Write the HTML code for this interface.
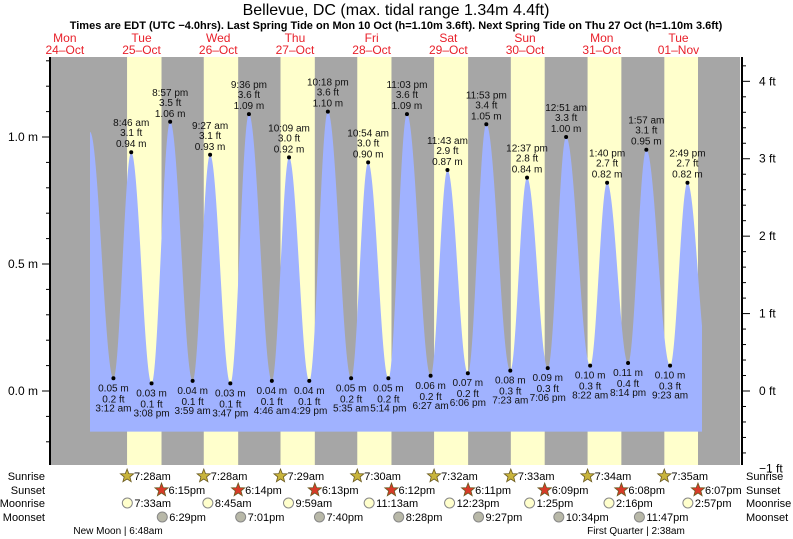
<!DOCTYPE html>
<html><head><meta charset="utf-8"><style>
body{margin:0;background:#fff}
svg{display:block;font-family:"Liberation Sans",sans-serif}
</style></head><body>
<svg id="c" width="793" height="539" viewBox="0 0 793 539" xmlns="http://www.w3.org/2000/svg">
<text x="396" y="15" font-size="16" text-anchor="middle">Bellevue, DC (max. tidal range 1.34m 4.4ft)</text>
<text x="396" y="29" font-size="11" font-weight="bold" text-anchor="middle">Times are EDT (UTC −4.0hrs). Last Spring Tide on Mon 10 Oct (h=1.10m 3.6ft). Next Spring Tide on Thu 27 Oct (h=1.10m 3.6ft)</text>
<g id="bg"></g><g id="tide"></g><g id="axes"></g><g id="labels"></g><g id="rows"></g>
</svg>
<script>
const dayNames=["Mon","Tue","Wed","Thu","Fri","Sat","Sun","Mon","Tue"];
const dayDates=["24\u2013Oct","25\u2013Oct","26\u2013Oct","27\u2013Oct","28\u2013Oct","29\u2013Oct","30\u2013Oct","31\u2013Oct","01\u2013Nov"];
// tide events: hours since 24-Oct 00:00, height m
const tideHours=[19.87,27.2,32.77,39.13,44.95,51.98,57.45,63.78,69.6,76.77,82.15,88.48,94.3,101.58,106.9,113.23,119.05,126.45,131.72,138.1,143.88,151.38,156.62,163.1,168.85,176.37,181.67,188.23,193.95,201.38,206.82,213.4];
const tideHeights=[1.02,0.05,0.94,0.03,1.06,0.04,0.93,0.03,1.09,0.04,0.92,0.04,1.10,0.05,0.90,0.05,1.09,0.06,0.87,0.07,1.05,0.08,0.84,0.09,1.00,0.10,0.82,0.11,0.95,0.10,0.82,0.10];
const tideTimes=["","3:12 am","8:46 am","3:08 pm","8:57 pm","3:59 am","9:27 am","3:47 pm","9:36 pm","4:46 am","10:09 am","4:29 pm","10:18 pm","5:35 am","10:54 am","5:14 pm","11:03 pm","6:27 am","11:43 am","6:06 pm","11:53 pm","7:23 am","12:37 pm","7:06 pm","12:51 am","8:22 am","1:40 pm","8:14 pm","1:57 am","9:23 am","2:49 pm",""];
const tideFeet=["","0.2","3.1","0.1","3.5","0.1","3.1","0.1","3.6","0.1","3.0","0.1","3.6","0.2","3.0","0.2","3.6","0.2","2.9","0.2","3.4","0.3","2.8","0.3","3.3","0.3","2.7","0.4","3.1","0.3","2.7",""];
const sunrise=["7:28am","7:28am","7:29am","7:30am","7:32am","7:33am","7:34am","7:35am"];
const sunset=["6:15pm","6:14pm","6:13pm","6:12pm","6:11pm","6:09pm","6:08pm","6:07pm"];
const moonrise=["7:33am","8:45am","9:59am","11:13am","12:23pm","1:25pm","2:16pm","2:57pm"];
const moonset=["6:29pm","7:01pm","7:40pm","8:28pm","9:27pm","10:34pm","11:47pm"];
const mTicks=[0.0,0.5,1.0];
const ftTicks=[-1,0,1,2,3,4];

const NS="http://www.w3.org/2000/svg";
const X0=26.5, PXD=76.7, Y0=391, PXM=254;
const PL=50, PR=740, PT=57, PB=465;
const xh=h=>X0+h/24*PXD;
const ym=m=>Y0-m*PXM;
const yft=f=>Y0-f*0.3048*PXM;
function parseT(s){const m=s.match(/(\d+):(\d+)\s*(am|pm)/);let h=+m[1]%12;if(m[3]=="pm")h+=12;return h+ +m[2]/60;}
function mk(tag,attrs,parent,txt){const e=document.createElementNS(NS,tag);for(const k in attrs)e.setAttribute(k,attrs[k]);if(txt!==undefined)e.textContent=txt;parent.appendChild(e);return e;}
const bg=document.getElementById('bg'),tide=document.getElementById('tide'),axes=document.getElementById('axes'),labels=document.getElementById('labels'),rows=document.getElementById('rows');

let r=mk('rect',{x:PL,y:PT,width:PR-PL,height:PB-PT,fill:'#a6a6a6'},bg);


for(let d=1;d<=8;d++){
  const a=xh(d*24+parseT(sunrise[d-1])), b=xh(d*24+parseT(sunset[d-1]));
  const e=mk('rect',{x:a,y:PT,width:b-a,height:PB-PT,fill:'#ffffcc'},bg);
  
  
}
for(let d=0;d<9;d++){
  const cx=xh(d*24+12);
  const t1=mk('text',{x:cx,y:42,'font-size':12,fill:'#e8202a','text-anchor':'middle'},labels,dayNames[d]);
  
  
  const t2=mk('text',{x:cx,y:54,'font-size':12,fill:'#e8202a','text-anchor':'middle'},labels,dayDates[d]);
  
  
}
const hStart=tideHours[0], hEnd=(702-X0)/PXD*24;
function hAt(h){
  for(let i=0;i<tideHours.length-1;i++){
    if(h>=tideHours[i]&&h<=tideHours[i+1]){
      const f=(h-tideHours[i])/(tideHours[i+1]-tideHours[i]);
      return tideHeights[i]+(tideHeights[i+1]-tideHeights[i])*(1-Math.cos(Math.PI*f))/2;
    }
  }
  return tideHeights[tideHeights.length-1];
}
const yBot=ym(-0.16);
let dstr=`M${xh(hStart)},${yBot}`;
for(let h=hStart;h<=hEnd;h+=0.1)dstr+=` L${xh(h).toFixed(2)},${ym(hAt(h)).toFixed(2)}`;
dstr+=` L${xh(hEnd)},${ym(hAt(hEnd))} L${xh(hEnd)},${yBot} Z`;
const p=mk('path',{d:dstr,fill:'#a0b2ff'},tide);


for(let i=1;i<tideHours.length-1;i++){
  const x=xh(tideHours[i]), y=ym(tideHeights[i]);
  const high=tideHeights[i]>tideHeights[i-1];
  const dot=mk('circle',{cx:x,cy:y,r:2,fill:'#000'},labels);
  
  
  const g=mk('g',{'font-size':10,'text-anchor':'middle',fill:'#111'},labels);
  
  
  const mtxt=tideHeights[i].toFixed(2)+' m', ftxt=tideFeet[i]+' ft';
  if(high){
    mk('text',{x:x,y:y-26},g,tideTimes[i]);
    mk('text',{x:x,y:y-16},g,ftxt);
    mk('text',{x:x,y:y-5},g,mtxt);
  }else{
    mk('text',{x:x,y:y+13},g,mtxt);
    mk('text',{x:x,y:y+24},g,ftxt);
    mk('text',{x:x,y:y+33},g,tideTimes[i]);
  }
}
let al=mk('line',{x1:PL,y1:PT,x2:PL,y2:PB,stroke:'#000','stroke-width':2},axes);


for(let k=-2;k<=13;k++){
  const y=ym(k/10); if(y<PT||y>PB)continue;
  mk('line',{x1:PL-(k%5==0?8:4),y1:y,x2:PL,y2:y,stroke:'#000'},axes);
}
mTicks.forEach(v=>{
  const t=mk('text',{x:PL-12,y:ym(v)+4,'font-size':12,'text-anchor':'end'},axes,v.toFixed(1)+' m');
  
  
});
let ar=mk('line',{x1:742,y1:PT,x2:742,y2:PB,stroke:'#000','stroke-width':2},axes);


for(let k=-5;k<=22;k++){
  const y=yft(k/5); if(y<PT||y>PB+1)continue;
  mk('line',{x1:742,y1:y,x2:742+(k%5==0?8:4),y2:y,stroke:'#000'},axes);
}
ftTicks.forEach(v=>{
  const t=mk('text',{x:759,y:yft(v)+4,'font-size':12,'text-anchor':'start'},axes,(v<0?'\u22121':v)+' ft');
  
  
});
const rowY=[476,490,503,517];
["Sunrise","Sunset","Moonrise","Moonset"].forEach((n,i)=>{
  const a=mk('text',{x:45,y:rowY[i]+4,'font-size':11,'text-anchor':'end'},rows,n);
  
  
  const b=mk('text',{x:746,y:rowY[i]+4,'font-size':11},rows,n);
  
  
});
function star(cx,cy,fill){
  let pts=[];for(let k=0;k<10;k++){const rr=k%2?3:7,a=-Math.PI/2+k*Math.PI/5;pts.push((cx+rr*Math.cos(a)).toFixed(1)+','+(cy+rr*Math.sin(a)).toFixed(1));}
  return mk('polygon',{points:pts.join(' '),fill:fill,stroke:'#6a5a20','stroke-width':0.8},rows);
}
function item(list,i,dayOff,y,kind){
  const x=xh((dayOff+i)*24+parseT(list[i]));
  let ic;
  if(kind==0)ic=star(x,y,'#c8b43c');
  else if(kind==1)ic=star(x,y,'#d83a28');
  else ic=mk('circle',{cx:x,cy:y,r:5,fill:kind==2?'#ffffcc':'#b8b8a8',stroke:'#888'},rows);
  
  
  const t=mk('text',{x:x+7,y:y+4,'font-size':11},rows,list[i]);
  
  
}
for(let i=0;i<8;i++){item(sunrise,i,1,rowY[0],0);item(sunset,i,1,rowY[1],1);item(moonrise,i,1,rowY[2],2);}
for(let i=0;i<7;i++)item(moonset,i,1,rowY[3],3);
let nm=mk('text',{x:118,y:534,'font-size':10,'text-anchor':'middle'},rows,'New Moon | 6:48am');


let fq=mk('text',{x:636,y:534,'font-size':10,'text-anchor':'middle'},rows,'First Quarter | 2:38am');


</script>
</body></html>
